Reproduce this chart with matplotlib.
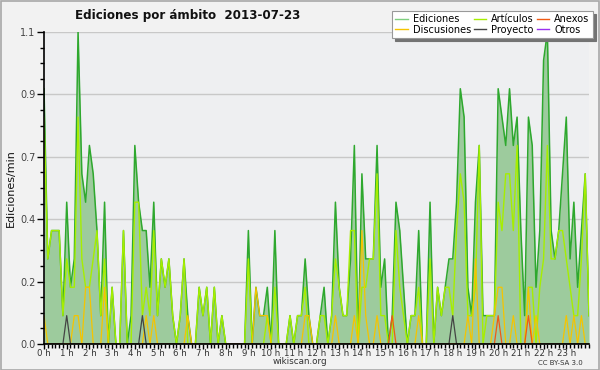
import numpy as np
import matplotlib
matplotlib.use("Agg")
import matplotlib.pyplot as plt
from matplotlib.ticker import FixedLocator, MultipleLocator, FuncFormatter
from matplotlib.lines import Line2D
from matplotlib.patches import Rectangle

plt.rcParams['font.family'] = ['DejaVu Sans']

# edits per 10-minute slot, in units of 0.1 edit/min (145 slots: 0h .. 24h)
ediciones = [9, 3, 4, 4, 4, 1, 5, 2, 3, 11, 6, 5, 7, 6, 4, 1, 5, 0, 2, 0,
             0, 4, 0, 1, 7, 5, 4, 4, 2, 5, 1, 3, 2, 3, 1, 0, 1, 3, 1, 0,
             0, 2, 1, 2, 0, 2, 0, 1, 0, 0, 0, 0, 0, 0, 4, 0, 2, 1, 1, 2,
             0, 4, 0, 0, 0, 1, 0, 1, 1, 3, 1, 0, 0, 1, 2, 0, 1, 5, 2, 1,
             1, 3, 7, 0, 6, 3, 3, 3, 7, 2, 3, 0, 1, 5, 4, 2, 0, 1, 1, 4,
             0, 0, 5, 0, 2, 1, 2, 3, 3, 5, 9, 8, 2, 1, 5, 7, 1, 1, 1, 1,
             9, 8, 7, 9, 7, 8, 4, 1, 8, 7, 2, 4, 10, 11, 4, 3, 4, 6, 8, 3,
             5, 2, 4, 6, 1]
articulos = [8, 3, 4, 4, 4, 1, 3, 2, 2, 8, 3, 2, 2, 3, 4, 1, 3, 0, 2, 0,
             0, 4, 0, 0, 5, 5, 1, 2, 1, 4, 1, 3, 2, 3, 1, 0, 1, 3, 0, 0,
             0, 2, 1, 2, 0, 2, 0, 1, 0, 0, 0, 0, 0, 0, 3, 0, 0, 0, 0, 1,
             0, 2, 0, 0, 0, 1, 0, 1, 1, 2, 0, 0, 0, 1, 1, 0, 1, 3, 2, 1,
             1, 4, 4, 0, 2, 2, 3, 3, 6, 1, 1, 0, 0, 4, 2, 1, 0, 1, 1, 2,
             0, 0, 3, 0, 2, 1, 2, 2, 1, 4, 6, 5, 1, 1, 2, 7, 0, 1, 1, 1,
             5, 4, 6, 6, 4, 7, 0, 0, 2, 2, 0, 2, 3, 7, 3, 3, 4, 4, 3, 2,
             1, 1, 3, 6, 1]
discusiones = [1, 0, 0, 0, 0, 0, 0, 0, 1, 1, 0, 2, 2, 0, 0, 0, 2, 0, 0, 0,
               0, 0, 0, 0, 0, 0, 0, 1, 0, 1, 0, 0, 0, 0, 0, 0, 0, 0, 1, 0,
               0, 0, 0, 0, 0, 0, 0, 0, 0, 0, 0, 0, 0, 0, 0, 0, 2, 1, 1, 1,
               0, 0, 0, 0, 0, 0, 0, 0, 0, 1, 1, 0, 0, 0, 0, 0, 0, 1, 0, 0,
               0, 0, 1, 0, 4, 1, 0, 0, 1, 0, 0, 0, 0, 0, 0, 0, 0, 0, 0, 1,
               0, 0, 0, 0, 0, 0, 0, 0, 0, 0, 0, 0, 1, 0, 3, 0, 0, 0, 0, 1,
               2, 2, 0, 0, 1, 0, 0, 0, 2, 0, 1, 0, 0, 0, 0, 0, 0, 0, 1, 0,
               1, 0, 1, 0, 0]
proyecto_slots = [6, 26, 108]
anexos_slots = [92, 120, 128]

hour_labels = [f"{h} h" for h in range(24)]

n = len(ediciones)
t = np.arange(n) / 6.0
ed = np.array(ediciones) / 10
ar = np.array(articulos) / 10
di = np.array(discusiones) / 10
pr = np.zeros(n)
pr[proyecto_slots] = 0.1
an = np.zeros(n)
an[anexos_slots] = 0.1

c_ed_line = "#2ea82e"
c_ed_fill = "#9dcb9d"
c_ed_leg = "#7fcf7f"
c_ar = "#a6ee00"
c_di = "#f5c400"
c_pr = "#444444"
c_an = "#f05a14"
c_ot = "#9b30f0"

fig = plt.figure(figsize=(6, 3.7), dpi=100)
fig.patch.set_facecolor("#f2f2f2")
ax = fig.add_axes([44 / 600, 1 - 344 / 370, 545 / 600, 312 / 370])
ax.set_facecolor("#eeeff1")

ax.fill_between(t, 0, ed, color=c_ed_fill, lw=0, zorder=2)
ax.plot(t, ed, color=c_ed_line, lw=1.1, zorder=3)
ax.plot(t, ar, color=c_ar, lw=1.0, zorder=4)
ax.plot(t, di, color=c_di, lw=0.9, zorder=5)
ax.plot(t, an, color=c_an, lw=0.9, zorder=6)
ax.plot(t, pr, color=c_pr, lw=0.9, zorder=6)

ax.set_xlim(0, 24)
ax.set_ylim(0, 1.1)
yt = np.linspace(0, 1.1, 6)
ax.yaxis.set_major_locator(FixedLocator(yt))
ax.yaxis.set_major_formatter(FuncFormatter(lambda v, p: f"{v:.1f}"))
ax.yaxis.set_minor_locator(FixedLocator(np.linspace(0, 1.1, 21)))
ax.set_xticks(np.arange(24))
ax.set_xticklabels(hour_labels)
ax.xaxis.set_minor_locator(MultipleLocator(1 / 6))
ax.grid(axis="y", color="#c8c8c8", lw=1.0, zorder=1)
ax.set_axisbelow(True)

for s in ["top", "right"]:
    ax.spines[s].set_visible(False)
for s in ["left", "bottom"]:
    ax.spines[s].set_color("black")
    ax.spines[s].set_linewidth(1.2)
    ax.spines[s].set_zorder(10)

ax.tick_params(axis="y", which="major", labelsize=7, length=5, width=1,
               color="black", labelcolor="#444444", pad=1)
ax.tick_params(axis="y", which="minor", length=3, width=1, color="black")
ax.tick_params(axis="x", which="major", labelsize=6.2, length=3.5, width=1,
               color="black", labelcolor="#333333", pad=0)
ax.tick_params(axis="x", which="minor", length=3, width=1, color="black")

ax.set_ylabel("Ediciones/min", fontsize=8, labelpad=3, color="#111111")

fig.text(188 / 600, 1 - 15 / 370, "Ediciones por ámbito  2013-07-23",
         ha="center", va="center", fontsize=8.6, fontweight="bold",
         color="#111111")
fig.text(300 / 600, 1 - 362 / 370, "wikiscan.org", ha="center", va="center",
         fontsize=6.3, color="#333333")
fig.text(560 / 600, 1 - 363 / 370, "CC BY-SA 3.0", ha="center", va="center",
         fontsize=5, color="#333333")

handles = [
    Line2D([], [], color=c_ed_leg, lw=1),
    Line2D([], [], color=c_di, lw=1),
    Line2D([], [], color=c_ar, lw=1),
    Line2D([], [], color=c_pr, lw=1),
    Line2D([], [], color=c_an, lw=1),
    Line2D([], [], color=c_ot, lw=1),
]
labels = ["Ediciones", "Discusiones", "Artículos", "Proyecto", "Anexos", "Otros"]
leg = fig.legend(handles, labels, ncol=3, loc="upper right",
                 bbox_to_anchor=(593 / 600, 1 - 11 / 370), fontsize=7,
                 frameon=True, fancybox=False,
                 shadow={"color": "0.45", "alpha": 1},
                 handlelength=1.3, handletextpad=0.5, columnspacing=0.3,
                 labelspacing=0.05, borderpad=0.35, borderaxespad=0)
leg.get_frame().set_facecolor("white")
leg.get_frame().set_edgecolor("#999999")
leg.get_frame().set_linewidth(0.8)
leg.get_frame().set_alpha(1)
leg.set_zorder(20)

fig.patches.append(Rectangle((0.001, 0.001), 0.997, 0.997, transform=fig.transFigure,
                             fill=False, edgecolor="#a8a8a8", lw=1.2))

fig.savefig("out.png", dpi=100, facecolor=fig.get_facecolor())
